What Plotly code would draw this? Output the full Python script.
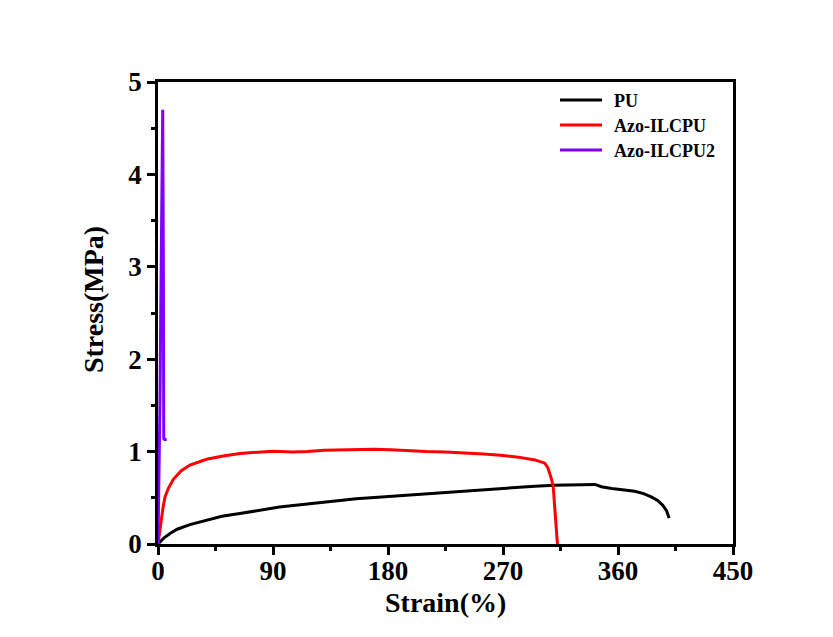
import plotly.graph_objects as go

# Data
pu_strain = [0, 2, 5, 10, 15, 25, 38, 50, 64, 80, 95, 115, 135, 155, 175, 195, 215, 242, 270, 295, 310, 325, 342, 347, 355, 365, 373, 380, 386, 391, 395, 398, 400]
pu_stress = [0, 0.03, 0.07, 0.12, 0.16, 0.21, 0.26, 0.30, 0.33, 0.37, 0.40, 0.43, 0.46, 0.49, 0.51, 0.53, 0.55, 0.575, 0.60, 0.625, 0.635, 0.64, 0.645, 0.62, 0.60, 0.585, 0.57, 0.545, 0.51, 0.47, 0.42, 0.36, 0.28]

azo_strain = [0, 1, 2, 3, 4, 5.5, 8, 12, 18, 25, 38, 50, 64, 78, 90, 105, 117, 130, 143, 156, 169, 182, 195, 210, 225, 242, 255, 268, 282, 295, 302.7, 305, 306.6, 308, 309.3, 310.5, 311.5, 312.6]
azo_stress = [0, 0.12, 0.22, 0.30, 0.40, 0.51, 0.60, 0.70, 0.79, 0.855, 0.917, 0.95, 0.98, 0.995, 1.005, 0.995, 1.0, 1.015, 1.02, 1.025, 1.025, 1.02, 1.01, 1.0, 0.995, 0.985, 0.975, 0.96, 0.94, 0.91, 0.875, 0.83, 0.765, 0.70, 0.62, 0.40, 0.20, 0]

azo2_strain = [0, 0.8, 1.5, 2.2, 2.8, 3.3, 3.7, 4.2, 4.5, 5.2, 6.8]
azo2_stress = [0, 0.6, 1.5, 2.6, 3.7, 4.5, 4.7, 3.0, 1.14, 1.13, 1.13]

series_names = ["PU", "Azo-ILCPU", "Azo-ILCPU2"]
series_colors = ["#000000", "#ff0000", "#7f00ff"]

x_ticks = [0, 90, 180, 270, 360, 450]
y_ticks = [0, 1, 2, 3, 4, 5]

FONT = "Liberation Serif, Times New Roman, serif"

fig = go.Figure()
for name, xs, ys, col in zip(series_names,
                             [pu_strain, azo_strain, azo2_strain],
                             [pu_stress, azo_stress, azo2_stress],
                             series_colors):
    fig.add_trace(go.Scatter(x=xs, y=ys, mode="lines", name=name,
                             line=dict(color=col, width=3), showlegend=False))

axis_common = dict(
    showline=True, linecolor="black", linewidth=2.5, mirror=True,
    ticks="outside", ticklen=8, tickwidth=2.5, tickcolor="black",
    showgrid=False, zeroline=False,
    tickfont=dict(family=FONT, size=27, color="black", weight="bold"),
)

fig.update_xaxes(range=[0, 450], tickvals=x_ticks, ticktext=[str(v) for v in x_ticks],
                 ticklabelstandoff=-7,
                 minor=dict(ticks="outside", ticklen=4, tickwidth=2.5, tickcolor="black", dtick=45, tick0=0),
                 **axis_common)
fig.update_yaxes(range=[0, 5], tickvals=y_ticks, ticktext=[str(v) for v in y_ticks],
                 minor=dict(ticks="outside", ticklen=4, tickwidth=2.5, tickcolor="black", dtick=0.5, tick0=0),
                 **axis_common)

fig.add_annotation(text="Strain(%)", xref="paper", yref="paper", x=0.5, y=-0.1266,
                   showarrow=False, xanchor="center", yanchor="middle",
                   font=dict(family=FONT, size=28, color="black", weight="bold"))
fig.add_annotation(text="Stress(MPa)", xref="paper", yref="paper", x=-0.113, y=0.528,
                   showarrow=False, xanchor="center", yanchor="middle", textangle=-90,
                   font=dict(family=FONT, size=28, color="black", weight="bold"))

# manual legend
leg_y = [0.9610, 0.9069, 0.8528]
for name, col, yy in zip(series_names, series_colors, leg_y):
    fig.add_shape(type="line", xref="paper", yref="paper", x0=0.6991, x1=0.7722, y0=yy, y1=yy,
                  line=dict(color=col, width=3))
    fig.add_annotation(text=name, xref="paper", yref="paper", x=0.7896, y=yy - 0.003,
                       showarrow=False, xanchor="left", yanchor="middle",
                       font=dict(family=FONT, size=18, color="black", weight="bold"))

fig.update_layout(
    width=833, height=637,
    margin=dict(l=150, r=108, t=74, b=101, pad=0),
    paper_bgcolor="white", plot_bgcolor="white",
    showlegend=False,
)

fig.write_html("out.html")
